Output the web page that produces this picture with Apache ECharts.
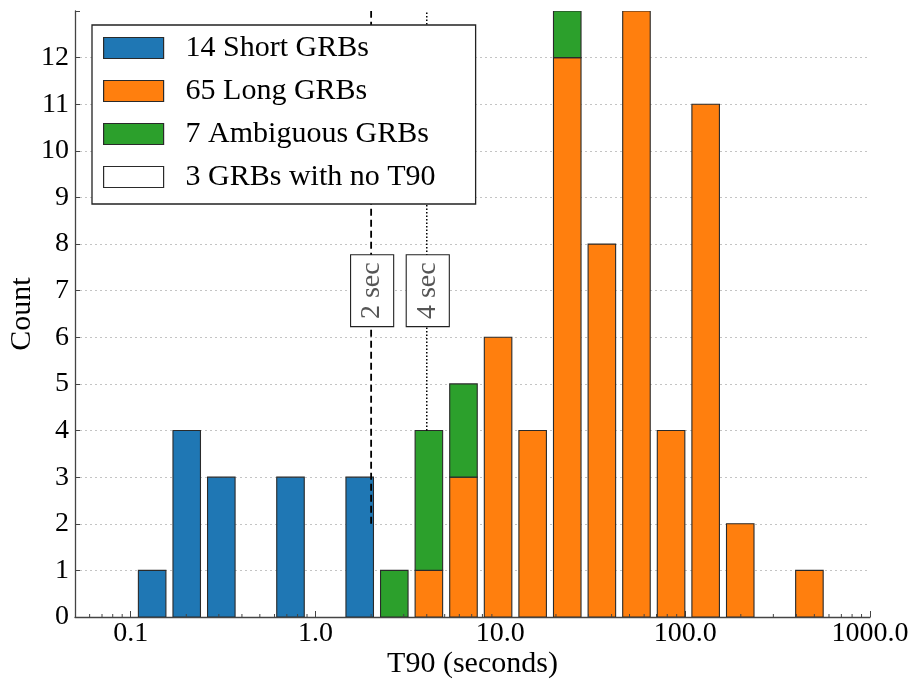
<!DOCTYPE html>
<html>
<head>
<meta charset="utf-8">
<script src="https://cdn.jsdelivr.net/npm/echarts@6/dist/echarts.min.js"></script>
<style>
  html, body { margin: 0; padding: 0; background: #fff; }
  #chart { width: 911px; height: 682px; }
</style>
</head>
<body>
<div id="chart"></div>
<script>
// Logarithmic T90 bins (seconds), 20 bins
const binEdges = [0.1045, 0.1608, 0.2473, 0.3806, 0.5856, 0.9010, 1.387, 2.134, 3.283, 5.051,
                  7.774, 11.96, 18.40, 28.32, 43.58, 67.06, 103.2, 158.8, 244.3, 375.8, 578.3];

// Counts per bin for each class
const shortCounts = [1, 4, 3, 0, 3, 0, 3, 0, 0, 0, 0, 0, 0, 0, 0, 0, 0, 0, 0, 0];
const longCounts  = [0, 0, 0, 0, 0, 0, 0, 0, 1, 3, 6, 4, 12, 8, 13, 4, 11, 2, 0, 1];
const ambigCounts = [0, 0, 0, 0, 0, 0, 0, 1, 3, 2, 0, 0, 1, 0, 0, 0, 0, 0, 0, 0];

const seriesNames = ['14 Short GRBs', '65 Long GRBs', '7 Ambiguous GRBs', '3 GRBs with no T90'];
const seriesColors = ['#1f77b4', '#ff7f0e', '#2ca02c', '#ffffff'];

// Duration thresholds marked on the chart
const thresholds = [2, 4];
const thresholdLabels = ['2 sec', '4 sec'];
const thresholdFloor = [2, 4];

// Axis tick labels
const xTickValues = [0.1, 1, 10, 100, 1000];
const xTickLabels = ['0.1', '1.0', '10.0', '100.0', '1000.0'];

const FONT = "'Liberation Serif', 'DejaVu Serif', serif";
const EDGE = '#2a2a2a';
const RWIDTH = 0.8;

// Build stacked rect records: [left, right, base, top]
function rects(counts, bases) {
  const out = [];
  for (let i = 0; i < counts.length; i++) {
    if (!counts[i]) continue;
    const lo = binEdges[i], hi = binEdges[i + 1];
    const w = hi - lo;
    const left = lo + w * (1 - RWIDTH) / 2;
    const right = left + w * RWIDTH;
    const b = bases ? bases[i] : 0;
    out.push([left, right, b, b + counts[i]]);
  }
  return out;
}

function renderBar(params, api) {
  const p0 = api.coord([api.value(0), api.value(2)]);
  const p1 = api.coord([api.value(1), api.value(3)]);
  return {
    type: 'rect',
    shape: { x: p0[0], y: p1[1], width: p1[0] - p0[0], height: p0[1] - p1[1] },
    style: { fill: seriesColors[params.seriesIndex], stroke: EDGE, lineWidth: 1.1 }
  };
}

function barSeries(idx, data) {
  return {
    name: seriesNames[idx],
    type: 'custom',
    renderItem: renderBar,
    itemStyle: { color: seriesColors[idx], borderColor: EDGE, borderWidth: 1 },
    encode: { x: [0, 1], y: [2, 3] },
    data: data,
    clip: true,
    z: 2
  };
}

// Minor tick positions on the log axis (2..9 x each decade)
const minorTicks = [];
[0.01, 0.1, 1, 10, 100].forEach(d => {
  for (let m = 2; m <= 9; m++) {
    const v = d * m;
    if (v > 0.05 && v < 1000) minorTicks.push([v]);
  }
});

const option = {
  animation: false,
  backgroundColor: '#fff',
  grid: { left: 75, right: 41, top: 11, bottom: 65, containLabel: false, outerBoundsMode: 'none' },
  xAxis: {
    type: 'log',
    logBase: 10,
    min: 0.05,
    max: 1000,
    name: 'T90 (seconds)',
    nameLocation: 'middle',
    nameGap: 32,
    nameMoveOverlap: false,
    nameTextStyle: { fontFamily: FONT, fontSize: 30, color: '#000' },
    axisLine: { show: true, onZero: false, lineStyle: { color: '#444', width: 1.3 } },
    axisTick: { show: true, inside: true, length: 6, lineStyle: { color: '#444', width: 1 } },
    axisLabel: {
      margin: 3,
      fontFamily: FONT, fontSize: 28, color: '#000',
      formatter: function (v) {
        for (let i = 0; i < xTickValues.length; i++) {
          if (Math.abs(v - xTickValues[i]) / xTickValues[i] < 1e-6) return xTickLabels[i];
        }
        return '';
      }
    },
    splitLine: { show: false }
  },
  yAxis: {
    type: 'value',
    min: 0,
    max: 13,
    interval: 1,
    name: 'Count',
    nameLocation: 'middle',
    nameGap: 38,
    nameMoveOverlap: false,
    nameTextStyle: { fontFamily: FONT, fontSize: 30, color: '#000' },
    axisLine: { show: true, lineStyle: { color: '#444', width: 1.3 } },
    axisTick: { show: true, inside: true, length: 5, lineStyle: { color: '#444' } },
    axisLabel: {
      margin: 6,
      fontFamily: FONT, fontSize: 28, color: '#000',
      formatter: v => (v >= 13 ? '' : String(v))
    },
    splitLine: {
      show: true,
      showMinLine: false,
      showMaxLine: false,
      lineStyle: { color: '#c4c4c4', width: 1.2, type: [2, 3] }
    }
  },
  legend: {
    orient: 'vertical',
    left: 92,
    top: 25,
    padding: [8, 40, 12, 11],
    itemWidth: 60,
    itemHeight: 21,
    itemGap: 13,
    selectedMode: false,
    backgroundColor: '#fff',
    borderColor: '#222',
    borderWidth: 1.3,
    borderRadius: 0,
    z: 10,
    textStyle: { fontFamily: FONT, fontSize: 30, color: '#000', lineHeight: 30, padding: [0, 0, 0, 17] },
    data: seriesNames.map((n, i) => ({
      name: n,
      icon: 'rect',
      itemStyle: { color: seriesColors[i], borderColor: EDGE, borderWidth: 1.2 }
    }))
  },
  series: [
    barSeries(0, rects(shortCounts)),
    barSeries(1, rects(longCounts)),
    barSeries(2, rects(ambigCounts, longCounts)),
    barSeries(3, []),
    {
      // minor ticks along the bottom axis
      name: 'minorTicks',
      type: 'custom',
      silent: true,
      data: minorTicks,
      encode: { x: 0 },
      renderItem: function (params, api) {
        const p = api.coord([api.value(0), 0]);
        return {
          type: 'line',
          shape: { x1: p[0], y1: p[1], x2: p[0], y2: p[1] - 3 },
          style: { stroke: '#444', lineWidth: 1 }
        };
      },
      z: 3
    },
    {
      // threshold markers with their boxed labels
      name: 'thresholds',
      type: 'custom',
      silent: true,
      data: thresholds.map((t, i) => [t, thresholdFloor[i], i]),
      encode: { x: 0, y: 1 },
      renderItem: function (params, api) {
        const idx = api.value(2);
        const bottom = api.coord([api.value(0), api.value(1)]);
        const top = api.coord([api.value(0), 13]);
        const mid = api.coord([api.value(0), 7]);
        return {
          type: 'group',
          children: [
            {
              type: 'line',
              shape: { x1: bottom[0], y1: bottom[1], x2: top[0], y2: top[1] },
              style: {
                stroke: '#000',
                lineWidth: idx === 0 ? 1.8 : 1.5,
                lineDash: idx === 0 ? [7, 4] : [1.5, 2]
              }
            },
            {
              type: 'text',
              x: mid[0] + 1,
              y: mid[1],
              rotation: Math.PI / 2,
              style: {
                text: thresholdLabels[idx],
                font: '28px ' + FONT,
                fill: '#555',
                align: 'center',
                verticalAlign: 'middle',
                backgroundColor: '#fff',
                borderColor: '#222',
                borderWidth: 1.1,
                padding: [8, 7, 6, 7]
              }
            }
          ]
        };
      },
      z: 4
    }
  ]
};

const chart = echarts.init(document.getElementById('chart'), null, { renderer: 'canvas' });
chart.setOption(option);
</script>
</body>
</html>
